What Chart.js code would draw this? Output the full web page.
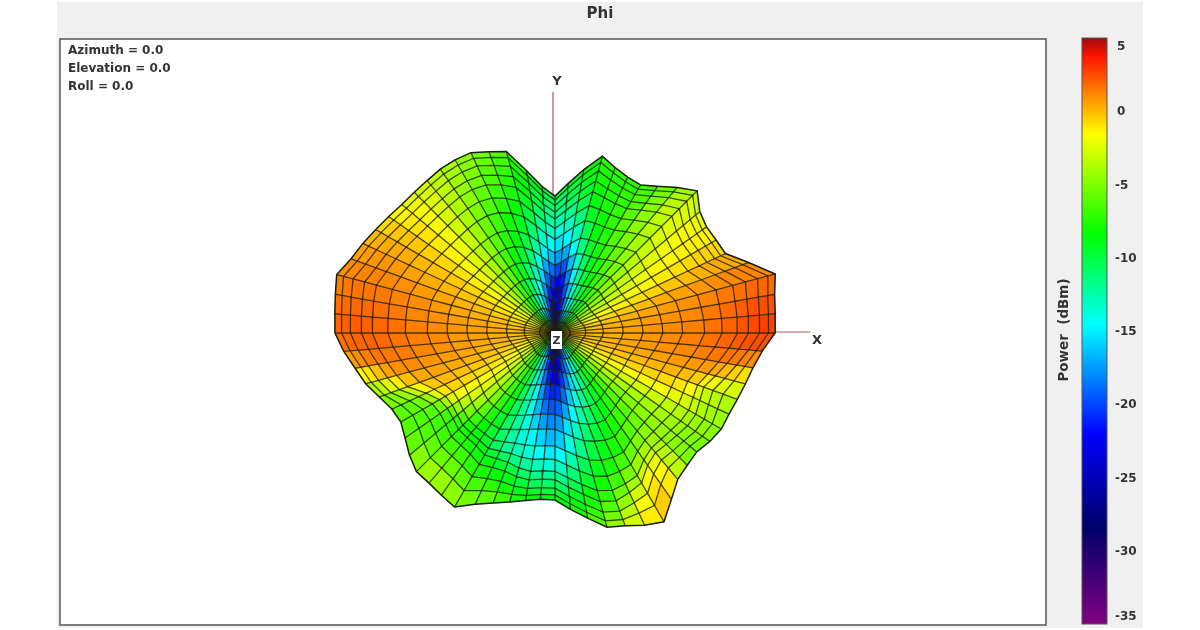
<!DOCTYPE html>
<html>
<head>
<meta charset="utf-8">
<script src="https://cdn.jsdelivr.net/npm/chart.js@4"></script>
<style>
  html, body { margin: 0; padding: 0; background: #fff; }
  canvas { display: block; filter: blur(0.5px); }
</style>
</head>
<body>
<canvas id="phiChart" width="1200" height="630"></canvas>
<script>
// direction of each mesh spoke, degrees counter clockwise from +X
const spokeAngles = [0,5,10,15,20,25,30,35,40,45,50,55,60,65,70,75,80,85,90,95,100,105,110,115,120,125,130,135,140,145,150,155,160,165,170,175,180,185,190,195,200,205,210,215,220,225,230,235,240,245,250,255,260,265,270,275,280,285,290,295,300,305,310,315,320,325,330,335,340,345,350,355];
// outer edge of the pattern along each spoke
const rimRadius = [220,221,223,228,206,188,186,185,189,201,190,179,171,172,176,183,166,150,137,147,165,188,193,199,200,200,199,199,200,203,207,212,217,226,223,221,220,212,203,196,187,180,178,183,190,196,196,198,201,189,181,175,170,167,167,177,188,201,205,212,218,203,191,187,185,189,192,192,194,197,201,208];
// the calmer shape the inner rings follow, without the notches of the rim
const innerRadius = [220,219,216,212,204,197,193,192,194,196,190,183,176,172,170,166,155,145,138,146,158,172,185,194,199,200,200,200,201,203,207,211,215,218,220,220,220,215,208,200,192,187,184,186,190,193,194,194,192,185,178,172,168,166,166,172,181,190,197,202,203,198,193,189,188,189,191,192,194,199,206,214];
// share of the radius where each ring sits, and how far it follows the rim
const ringFractions = [0.07,0.14,0.22,0.31,0.40,0.49,0.58,0.68,0.76,0.83,0.88,0.93,0.97,1];
const rimFollow = [0,0,0,0,0,0.1,0.2,0.3,0.45,0.6,0.75,0.85,0.95,1];
// the surface folds over in the lower left and lower right, rings crowd there
const foldLeftRings = [0.07,0.14,0.22,0.31,0.40,0.49,0.57,0.63,0.67,0.70,0.75,0.82,0.90,1];
const foldRightRings = [0.07,0.14,0.22,0.31,0.40,0.49,0.58,0.66,0.72,0.77,0.80,0.85,0.91,1];
const foldLeftWeight = [0,0,0,0,0,0,0,0,0,0,0,0,0,0,0,0,0,0,0,0,0,0,0,0,0,0,0,0,0,0,0,0,0,0,0,0,0,0,0,0,0,0.4,0.7,0.9,1,1,1,1,0.9,0.7,0.5,0.2,0,0,0,0,0,0,0,0,0,0,0,0,0,0,0,0,0,0,0,0];
const foldRightWeight = [0,0,0,0,0,0,0,0,0,0,0,0,0,0,0,0,0,0,0,0,0,0,0,0,0,0,0,0,0,0,0,0,0,0,0,0,0,0,0,0,0,0,0,0,0,0,0,0,0,0,0,0,0,0,0,0,0,0,0,0.5,0.9,1,0.8,0.5,0.3,0.3,0.4,0.6,0.8,0.5,0.2,0];
// dBm per spoke, ring 1 to 14
const powerBySpoke = [
  [-0.5,0,0.3,0.6,0.9,1.1,1.3,1.6,1.9,2.3,2.6,2.8,2.9,2.8],
  [-0.5,0,0.3,0.5,0.8,1,1.2,1.5,1.8,2.2,2.5,2.7,2.8,2.6],
  [-0.8,-0.3,0.1,0.3,0.6,0.8,1,1.3,1.6,1.9,2.1,2.3,2.3,2.1],
  [-1.5,-1,-0.5,-0.1,0.2,0.5,0.8,1,1.2,1.5,1.6,1.7,1.6,1.5],
  [-2.5,-2,-1.4,-0.8,-0.4,-0.1,0.2,0.5,0.7,0.8,0.9,0.9,0.8,0.6],
  [-3.5,-3,-2.5,-2,-1.6,-1.2,-0.9,-0.6,-0.4,-0.2,-0.1,-0.1,-0.2,-0.3],
  [-4.5,-4,-3.4,-2.8,-2.3,-1.9,-1.5,-1.2,-1,-0.9,-0.9,-0.9,-1,-1],
  [-6,-5.2,-4.3,-3.6,-3,-2.5,-2.1,-1.8,-1.6,-1.5,-1.5,-1.5,-1.6,-1.7],
  [-7.5,-6.5,-5.5,-4.6,-3.9,-3.3,-2.8,-2.4,-2.1,-2,-2,-2.2,-2.5,-2.8],
  [-9,-8,-6.8,-5.6,-4.9,-4.2,-3.6,-3.1,-2.7,-2.5,-2.5,-2.8,-3.2,-3.5],
  [-11,-9.5,-8,-7,-6,-5.3,-4.7,-4.2,-3.9,-3.8,-4,-4.4,-4.8,-5],
  [-13,-11.5,-9.5,-8.3,-7.2,-6.4,-5.8,-5.3,-5.1,-5.2,-5.5,-5.8,-6.1,-6.3],
  [-15,-13,-11,-9.6,-8.5,-7.6,-7,-6.6,-6.5,-6.6,-6.8,-7,-7.2,-7.3],
  [-17,-14.5,-12.8,-11,-10,-9,-8.2,-7.7,-7.5,-7.4,-7.4,-7.4,-7.3,-7.2],
  [-19,-17.5,-15.5,-13.7,-12.3,-10.8,-9.6,-8.6,-8.1,-7.8,-7.6,-7.4,-7.2,-7],
  [-21,-20,-18.5,-17,-15.5,-13.5,-12,-10.6,-9.6,-9,-8.5,-8,-7.6,-7.2],
  [-24,-23,-22,-21,-19.5,-17,-15,-13,-11.5,-10.5,-10,-9.5,-9,-8.6],
  [-26,-25,-24,-23,-22,-19.5,-16.5,-14.5,-13,-12,-11,-10.5,-10,-9.6],
  [-29,-26,-24,-22.5,-20.5,-18,-16,-14.2,-13,-12,-11.5,-11,-10.6,-10.2],
  [-27,-25,-23,-21.5,-19.5,-17,-15,-13.2,-12,-11,-10.4,-10,-9.6,-9.2],
  [-24,-22.5,-21,-19,-17,-15,-13,-11.4,-10.2,-9.4,-8.9,-8.5,-8.1,-7.8],
  [-21,-18.5,-16.5,-14.5,-12.7,-11.2,-10,-9,-8.4,-8,-7.6,-7.2,-6.9,-6.6],
  [-19,-16.5,-14.5,-12.5,-10.9,-9.6,-8.7,-7.9,-7.4,-7,-6.6,-6.2,-5.8,-5.5],
  [-16.5,-14,-12.3,-10.6,-9.3,-8.3,-7.5,-6.9,-6.4,-6,-5.7,-5.3,-5,-4.8],
  [-14,-12,-10.3,-8.8,-7.8,-7,-6.4,-5.9,-5.3,-5,-4.7,-4.4,-4.2,-4.2],
  [-12,-10,-8.4,-7.2,-6.3,-5.6,-5.1,-4.7,-4.3,-4,-3.8,-3.6,-3.5,-3.6],
  [-10,-8,-6.6,-5.6,-4.8,-4.2,-3.8,-3.4,-3.1,-3,-2.9,-2.9,-3,-3.1],
  [-8,-6.3,-5,-4.1,-3.5,-3,-2.6,-2.3,-2.1,-2,-2,-2.1,-2.2,-2.5],
  [-6,-4.8,-3.8,-3,-2.5,-2.1,-1.8,-1.5,-1.3,-1.2,-1.3,-1.5,-1.8,-2],
  [-4.5,-3.5,-2.8,-2.2,-1.7,-1.3,-1,-0.8,-0.6,-0.5,-0.5,-0.7,-1,-1.2],
  [-3.5,-2.6,-1.9,-1.4,-1,-0.7,-0.4,-0.2,0,0.2,0.2,0.1,-0.2,-0.5],
  [-2.5,-1.8,-1.3,-0.8,-0.5,-0.2,0.1,0.3,0.5,0.7,0.7,0.6,0.4,0.2],
  [-1.8,-1.2,-0.7,-0.3,0,0.2,0.5,0.8,1,1.1,1.1,1.1,1,0.9],
  [-1.2,-0.8,-0.3,0,0.3,0.5,0.8,1.1,1.3,1.5,1.5,1.5,1.3,1.2],
  [-0.9,-0.4,0,0.3,0.5,0.8,1,1.3,1.6,1.8,1.8,1.8,1.7,1.5],
  [-0.7,-0.2,0.2,0.5,0.7,1,1.2,1.5,1.8,2,2.1,2.1,2,1.8],
  [-0.7,-0.1,0.3,0.6,0.8,1,1.3,1.6,1.9,2.1,2.2,2.2,2.1,2],
  [-0.8,-0.3,0.2,0.4,0.7,1,1.2,1.5,1.7,1.9,1.9,1.8,1.6,1.2],
  [-1,-0.5,0,0.3,0.5,0.8,1,1.3,1.4,1.4,1.2,0.8,0.2,-0.5],
  [-1.5,-0.9,-0.4,0,0.2,0.5,0.7,0.9,0.9,0.4,-0.5,-1.8,-2.8,-3],
  [-2,-1.3,-0.8,-0.4,-0.1,0.1,0.3,0.4,-0.2,-1.5,-3,-4,-4.5,-4.5],
  [-2.8,-2,-1.3,-0.9,-0.6,-0.4,-0.2,-0.2,-1,-3,-4.5,-5.5,-5.6,-5.6],
  [-3.5,-2.7,-1.9,-1.5,-1.2,-1,-0.8,-1,-1.8,-3.5,-5,-6,-6.2,-6],
  [-4.5,-3.5,-2.7,-2.2,-2,-1.9,-2,-2.5,-4,-5.8,-6.5,-6.5,-6.3,-6],
  [-5.5,-4.5,-3.7,-3.1,-2.9,-2.9,-3.5,-5,-6.3,-7,-7,-6.5,-5.7,-4.8],
  [-7,-5.6,-4.8,-4.3,-4.2,-4.6,-5.4,-6.8,-7.4,-7.5,-7,-6.2,-4.8,-3.8],
  [-9,-7.5,-6.3,-5.7,-5.8,-6.3,-7.3,-8,-8.3,-7.8,-7,-6,-4.7,-3.6],
  [-11,-9.5,-8,-7.6,-7.7,-8,-8.7,-9,-8.8,-8.2,-7.4,-6.3,-5,-3.8],
  [-13.5,-11.5,-10,-9.4,-9.3,-9.6,-10,-10,-9.3,-8.6,-7.8,-6.8,-5.5,-4.2],
  [-16,-14,-12.2,-11.4,-11.3,-11.4,-11.6,-11.8,-11,-9.6,-8.4,-7.4,-6.2,-5],
  [-19,-17,-15,-13.5,-13,-13,-13,-13,-12,-10.5,-8.8,-8,-6.8,-5.6],
  [-22,-20,-18,-16.5,-15.5,-15,-14.5,-13.8,-12.6,-11,-9.8,-8.8,-7.8,-6.8],
  [-25,-23,-21,-19.5,-18.5,-17.5,-16,-14.5,-13,-11.8,-10.8,-9.8,-8.8,-8],
  [-28,-25.5,-23,-21.5,-20,-18.5,-17,-15.5,-14,-12.5,-11.3,-10.2,-9.2,-8.3],
  [-30,-27,-24,-22,-20.5,-19,-17.5,-16,-14.5,-13,-11.6,-10.4,-9.3,-8.5],
  [-28,-25,-22.5,-21,-19.5,-17.5,-16,-14.5,-13,-11.6,-10.6,-9.6,-8.7,-7.8],
  [-25,-22.5,-20.5,-18.5,-16.5,-14.8,-13.2,-11.8,-10.6,-9.6,-8.8,-8,-7.2,-6.5],
  [-22,-20,-18,-15.8,-14,-12.4,-11.2,-10,-9,-8.2,-7.4,-6.6,-5.8,-5],
  [-20,-17.5,-15.3,-13.5,-12,-10.8,-9.8,-8.8,-7.8,-6.8,-5.8,-4.8,-3.8,-3],
  [-18,-15,-13,-11.6,-10.5,-9.6,-8.7,-7.6,-6.5,-5.2,-4,-2.9,-2,-1.4],
  [-15.5,-13,-11,-10,-9.2,-8.6,-7.8,-6.6,-5.2,-3.8,-2.6,-1.5,-0.7,-0.3],
  [-13,-11,-9.5,-8.7,-8.2,-7.5,-6.8,-5.8,-4.5,-3.2,-2,-1,-0.4,0],
  [-10.5,-9,-7.8,-7.2,-7,-6.6,-6,-5.2,-4.3,-3.6,-2.8,-2.2,-1.9,-2],
  [-8.5,-7,-6.2,-5.8,-5.7,-5.5,-5.2,-4.8,-4.3,-4.2,-4.2,-4.4,-4.6,-4.8],
  [-6.5,-5.5,-4.8,-4.4,-4.3,-4.3,-4.3,-4.3,-4.3,-4.5,-4.7,-5,-5.2,-5.4],
  [-5,-4,-3.4,-3.2,-3.2,-3.3,-3.4,-3.6,-3.8,-4,-4.3,-4.6,-4.8,-5],
  [-3.6,-2.8,-2.3,-2.1,-2,-2.1,-2.2,-2.5,-3,-3.4,-3.8,-4.2,-4.4,-4.5],
  [-2.6,-1.9,-1.4,-1.1,-1,-1,-1.1,-1.3,-1.7,-2.3,-3,-3.6,-3.9,-4],
  [-1.8,-1.2,-0.7,-0.4,-0.2,-0.1,0,-0.2,-0.6,-1.5,-2.5,-3,-3.3,-3.4],
  [-1.2,-0.7,-0.2,0.1,0.3,0.4,0.5,0.5,0.4,0.1,-0.6,-1.2,-1.6,-1.8],
  [-0.8,-0.3,0.1,0.4,0.6,0.8,1,1.2,1.3,1.3,1,0.7,0.3,0],
  [-0.6,-0.1,0.2,0.5,0.7,1,1.2,1.5,1.8,2.1,2.2,2.3,2.1,1.8]
];
// colour bar
const powerTicks = [5,0,-5,-10,-15,-20,-25,-30,-35];
const colorValues = [5,3.8,1.4,-1.5,-8.3,-14.5,-22,-28.4,-35];
const colorStops = [[165,10,15],[255,20,0],[255,128,0],[255,255,0],[0,255,0],[0,255,255],[0,0,255],[0,0,105],[130,0,130]];
// reference axes of the 3D view
const axisX = [{x:220,y:1},{x:255,y:1}];
const axisY = [{x:-2,y:136},{x:-2,y:241}];
const viewLines = ['Azimuth = 0.0','Elevation = 0.0','Roll = 0.0'];
const textFont = '"DejaVu Sans"';

function powerColor(v) {
  v = Math.min(5, Math.max(-35, v));
  for (let i = 1; i < colorValues.length; i++) {
    if (v >= colorValues[i]) {
      let t = (v - colorValues[i]) / (colorValues[i-1] - colorValues[i]);
      let c = colorStops[i].map((a, k) => Math.round(a + (colorStops[i-1][k] - a) * t));
      return 'rgb(' + c.join(',') + ')';
    }
  }
  return 'rgb(130,0,130)';
}

function node(spoke, ring) {
  // ring -1 is the centre
  if (ring < 0) return {x: 0, y: 0};
  let base = innerRadius[spoke] + (rimRadius[spoke] - innerRadius[spoke]) * rimFollow[ring];
  let f = ringFractions[ring];
  f += (foldLeftRings[ring] - f) * foldLeftWeight[spoke];
  f += (foldRightRings[ring] - f) * foldRightWeight[spoke];
  let a = spokeAngles[spoke] * Math.PI / 180;
  return {x: base * f * Math.cos(a), y: base * f * Math.sin(a)};
}

let datasets = [];
const meshLine = {showLine: true, pointRadius: 0, borderColor: 'rgba(30,30,15,0.8)', borderWidth: 1.3, fill: false, tension: 0};
spokeAngles.forEach((a, s) => {
  let pts = [{x: 0, y: 0}];
  ringFractions.forEach((f, r) => pts.push(node(s, r)));
  datasets.push(Object.assign({label: 'spoke ' + a, data: pts}, meshLine));
});
ringFractions.forEach((f, r) => {
  let pts = spokeAngles.map((a, s) => node(s, r));
  pts.push(pts[0]);
  let isRim = r === ringFractions.length - 1;
  datasets.push(Object.assign({label: 'ring ' + (r + 1), data: pts}, meshLine, isRim ? {borderColor: '#1c1c10', borderWidth: 1.5} : {}));
});
datasets.push({label: 'X', data: axisX, showLine: true, pointRadius: 0, borderColor: '#b5555a', borderWidth: 1.2});
datasets.push({label: 'Y', data: axisY, showLine: true, pointRadius: 0, borderColor: '#b5555a', borderWidth: 1.2});

const frame = {
  id: 'frame',
  beforeDraw(chart) {
    let c = chart.ctx, a = chart.chartArea;
    c.save();
    c.fillStyle = '#f0f0f0';
    c.fillRect(57, 2, 1086, 626);
    c.fillStyle = '#fff';
    c.fillRect(a.left, a.top, a.width, a.height);
    c.strokeStyle = '#555';
    c.lineWidth = 1.5;
    c.strokeRect(a.left, a.top, a.width, a.height);
    c.restore();
  }
};

const cells = {
  id: 'cells',
  beforeDatasetsDraw(chart) {
    let c = chart.ctx, sx = chart.scales.x, sy = chart.scales.y;
    let px = p => [sx.getPixelForValue(p.x), sy.getPixelForValue(p.y)];
    let n = spokeAngles.length;
    c.save();
    c.lineWidth = 0.6;
    for (let s = 0; s < n; s++) {
      let s2 = (s + 1) % n;
      for (let r = 0; r < ringFractions.length; r++) {
        let v = powerBySpoke[s][r] + powerBySpoke[s2][r];
        if (r > 0) v = (v + powerBySpoke[s][r-1] + powerBySpoke[s2][r-1]) / 4; else v = v / 2;
        let q = [node(s, r-1), node(s, r), node(s2, r), node(s2, r-1)].map(px);
        c.fillStyle = c.strokeStyle = powerColor(v);
        c.beginPath();
        c.moveTo(q[0][0], q[0][1]);
        for (let i = 1; i < 4; i++) c.lineTo(q[i][0], q[i][1]);
        c.closePath();
        c.fill();
        c.stroke();
      }
    }
    c.restore();
  }
};

const labels = {
  id: 'labels',
  afterDatasetsDraw(chart) {
    let c = chart.ctx, sp = chart.scales.power;
    c.save();
    c.fillStyle = '#333';
    c.textBaseline = 'middle';
    c.textAlign = 'center';
    c.font = 'bold 15px ' + textFont;
    c.fillText('Phi', 600, 14);
    c.textAlign = 'left';
    c.font = 'bold 12px ' + textFont;
    viewLines.forEach((t, i) => c.fillText(t, 68, 51 + i * 18));

    // axis names and the Z marker
    c.textAlign = 'center';
    c.font = 'bold 13px ' + textFont;
    c.fillText('Y', 557, 82);
    c.fillText('X', 817, 341);
    c.fillStyle = '#fff';
    c.fillRect(551, 331, 11, 18);
    c.fillStyle = '#333';
    c.font = 'bold 11px ' + textFont;
    c.fillText('Z', 556.5, 341);

    // colour bar on the power scale
    let top = sp.getPixelForValue(5), bottom = sp.getPixelForValue(-35);
    let g = c.createLinearGradient(0, top, 0, bottom);
    colorValues.forEach((v, i) => {
      g.addColorStop((sp.getPixelForValue(v) - top) / (bottom - top), 'rgb(' + colorStops[i].join(',') + ')');
    });
    c.fillStyle = g;
    c.fillRect(1082, top - 1, 25, bottom - top);
    c.strokeStyle = '#555';
    c.lineWidth = 1;
    c.strokeRect(1082, top - 1, 25, bottom - top);

    c.fillStyle = '#333';
    c.textAlign = 'left';
    c.font = 'bold 12px ' + textFont;
    powerTicks.forEach(v => {
      let y = Math.min(617, Math.max(47, sp.getPixelForValue(v)));
      c.fillText(String(v), v < 0 ? 1115 : 1117, y);
    });

    c.translate(1064, 330);
    c.rotate(-Math.PI / 2);
    c.textAlign = 'center';
    c.font = 'bold 13.5px ' + textFont;
    c.fillText('Power  (dBm)', 0, 0);
    c.restore();
  }
};

new Chart(document.getElementById('phiChart').getContext('2d'), {
  type: 'scatter',
  data: {datasets: datasets},
  options: {
    responsive: false,
    animation: false,
    layout: {padding: {left: 60, top: 39, right: 154, bottom: 5}},
    plugins: {legend: {display: false}, tooltip: {enabled: false}},
    scales: {
      x: {type: 'linear', display: false, min: -495, max: 491},
      y: {type: 'linear', display: false, min: -292, max: 294},
      power: {type: 'linear', axis: 'y', display: false, min: -35, max: 5}
    }
  },
  plugins: [frame, cells, labels]
});
</script>
</body>
</html>
